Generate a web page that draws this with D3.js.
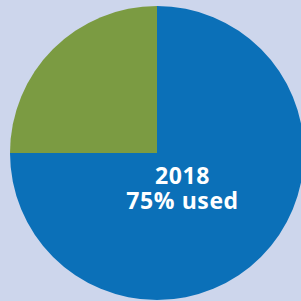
<!DOCTYPE html>
<html>
<head>
<meta charset="utf-8">
<script src="https://cdn.jsdelivr.net/npm/d3@7"></script>
<style>
  html, body { margin: 0; padding: 0; background: #cdd6ec; }
  svg { display: block; }
</style>
</head>
<body>
<div id="chart"></div>
<script>
var categories = ["used", "unused"];
var values = [75, 25];
var colors = ["#0b70b8", "#7b9b42"];
var labelLines = ["2018", "75% used"];

var width = 301, height = 301,
    cx = 157, cy = 153, radius = 147;

var svg = d3.select("#chart")
    .append("svg")
      .attr("width", width)
      .attr("height", height);

svg.append("rect")
    .attr("width", width)
    .attr("height", height)
    .attr("fill", "#cdd6ec");

var g = svg.append("g")
    .attr("transform", "translate(" + cx + "," + cy + ")");

var pie = d3.pie().sort(null).value(function(d) { return d; });
var arc = d3.arc().innerRadius(0).outerRadius(radius);

g.selectAll("path")
    .data(pie(values))
  .enter().append("path")
    .attr("d", arc)
    .attr("fill", function(d, i) { return colors[i]; });

// two lines of centred label, one text each
svg.selectAll("text.label")
    .data(labelLines)
  .enter().append("text")
    .attr("class", "label")
    .attr("x", 182.5)
    .attr("y", function(d, i) { return 183.5 + i * 25.5; })
    .attr("fill", "#fff")
    .attr("font-family", "'Open Sans', sans-serif")
    .attr("font-weight", "bold")
    .attr("font-size", "23px")
    .attr("letter-spacing", "0.6px")
    .attr("text-anchor", "middle")
    .text(function(d) { return d; });
</script>
</body>
</html>
